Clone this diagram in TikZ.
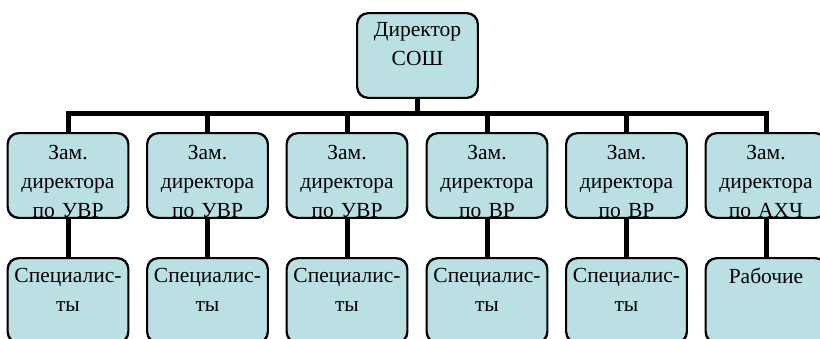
\documentclass[tikz,border=0pt]{standalone}
\usepackage{fontspec}
\setmainfont{Liberation Serif}
\definecolor{boxfill}{RGB}{186,224,228}
\tikzset{
  orgbox/.style={draw=black, line width=1.4pt, fill=boxfill, rounded corners=11pt,
    minimum width=120pt, minimum height=84pt, inner sep=0pt},
  orgedge/.style={draw=black, line width=1.4pt, rounded corners=11pt},
  conn/.style={line width=5pt, draw=black, line join=miter},
  boxtxt/.style={anchor=north, align=center, text width=120pt, inner sep=0pt,
    font=\fontsize{21.5}{29}\selectfont}
}
\newcommand\orgnode[5]{%
  \node[orgbox] (#1) at (#2,#3) {};
  \begin{scope}
    \clip[rounded corners=11pt] (#1.south west) rectangle (#1.north east);
    \node[boxtxt] (#1txt) at ([yshift=-#5pt]#1.north) {#4};
  \end{scope}
  \draw[orgedge] (#1.south west) rectangle (#1.north east);}
\begin{document}
\begin{tikzpicture}[x=1pt,y=-1pt]
\useasboundingbox (0,0) rectangle (820,338);
\clip (0,0) rectangle (820,338);
\coordinate (bar) at (0,113.5);
% connectors first
\coordinate (top) at (417.5,55.5);
\foreach \i/\x in {1/68,2/207.5,3/347,4/487,5/626.5,6/766}{
  \coordinate (c\i) at (\x,175.5);
  \coordinate (d\i) at (\x,300);
}
\draw[conn] (top) -- (top |- bar);
\draw[conn] (c1) -- (c1 |- bar) -- (c6 |- bar) -- (c6);
\foreach \i in {2,...,5}{ \draw[conn] (c\i) -- (c\i |- bar); }
\foreach \i in {1,...,6}{ \draw[conn] (c\i) -- (d\i); }
% boxes
\orgnode{t}{417.5}{55.5}{Директор\\СОШ}{9.5}
\orgnode{a1}{68}{175.5}{Зам.\\директора\\по УВР}{12}
\orgnode{a2}{207.5}{175.5}{Зам.\\директора\\по УВР}{12}
\orgnode{a3}{347}{175.5}{Зам.\\директора\\по УВР}{12}
\orgnode{a4}{487}{175.5}{Зам.\\директора\\по ВР}{12}
\orgnode{a5}{626.5}{175.5}{Зам.\\директора\\по ВР}{12}
\orgnode{a6}{766}{175.5}{Зам.\\директора\\по АХЧ}{12}
\orgnode{b1}{68}{300.5}{Специалис-\\ты}{10}
\orgnode{b2}{207.5}{300.5}{Специалис-\\ты}{10}
\orgnode{b3}{347}{300.5}{Специалис-\\ты}{10}
\orgnode{b4}{487}{300.5}{Специалис-\\ты}{10}
\orgnode{b5}{626.5}{300.5}{Специалис-\\ты}{10}
\orgnode{b6}{766}{300.5}{Рабочие}{10}
\end{tikzpicture}
\end{document}
